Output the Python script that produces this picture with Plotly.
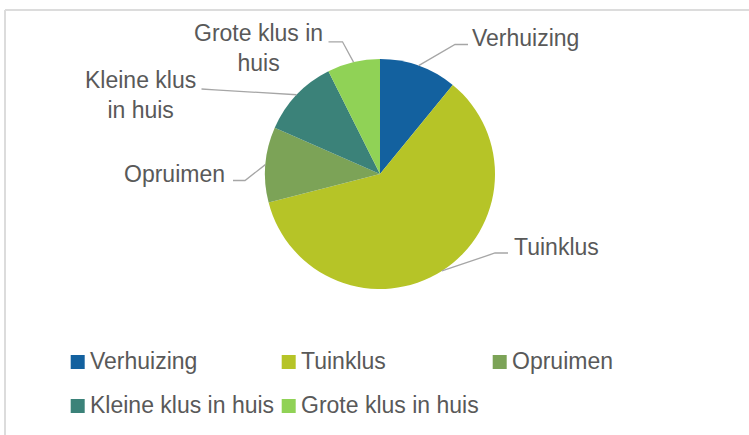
import math
import plotly.graph_objects as go

# ---- data ----
categories = ["Verhuizing", "Tuinklus", "Opruimen", "Kleine klus in huis", "Grote klus in huis"]
values = [10.9, 60.1, 10.6, 11.0, 7.4]
label_texts = ["Verhuizing", "Tuinklus", "Opruimen", "Kleine klus<br>in huis", "Grote klus in<br>huis"]

# ---- styling / layout ----
colors = ["#13619f", "#b6c427", "#7ca357", "#3b8279", "#90d256"]
W, H = 749, 435
CX, CY, R = 380, 174, 115
FONT = "Liberation Sans, Arial, sans-serif"
TXT = "#595959"
FS = 23

def px(x):
    return x / W

def py(y):
    return 1 - y / H

# label placement: (text x, text y, xanchor, elbow point, end point)
label_layout = [
    dict(x=470, y=38, xanchor="left", elbow=(455, 44.5), end=(468, 44.5)),
    dict(x=512, y=247, xanchor="left", elbow=(495, 253), end=(508, 253)),
    dict(x=227, y=174, xanchor="right", elbow=(245, 180.5), end=(233, 180.5)),
    dict(x=140, y=95, xanchor="center", elbow=(215, 89.8), end=(201.5, 89)),
    dict(x=258.5, y=47.5, xanchor="center", elbow=(342.5, 41.8), end=(328.5, 41.8)),
]

fig = go.Figure()
fig.add_trace(go.Pie(
    labels=categories,
    values=values,
    sort=False,
    direction="clockwise",
    rotation=0,
    textinfo="none",
    hoverinfo="label+percent",
    marker=dict(colors=colors, line=dict(width=0)),
    domain=dict(x=[px(CX - R), px(CX + R)], y=[py(CY + R), py(CY - R)]),
    showlegend=False,
))

shapes = []
annotations = []

# chart border (only top and left edges are visible in the frame)
border = dict(color="#dcdcdc", width=2)
shapes.append(dict(type="line", xref="paper", yref="paper",
                   x0=px(5), y0=py(10), x1=px(W + 5), y1=py(10), line=border))
shapes.append(dict(type="line", xref="paper", yref="paper",
                   x0=px(5), y0=py(10), x1=px(5), y1=py(H + 5), line=border))

# data labels with leader lines, start point derived from slice mid-angles
total = sum(values)
cum = 0.0
for v, txt, lay in zip(values, label_texts, label_layout):
    mid = (cum + v / 2) / total * 2 * math.pi
    cum += v
    sx = CX + R * math.sin(mid)
    sy = CY - R * math.cos(mid)
    ex, ey = lay["elbow"]
    tx, ty = lay["end"]
    path = f"M {px(sx)},{py(sy)} L {px(ex)},{py(ey)} L {px(tx)},{py(ty)}"
    shapes.append(dict(type="path", xref="paper", yref="paper", path=path,
                       line=dict(color="#a6a6a6", width=1.3)))
    annotations.append(dict(x=px(lay["x"]), y=py(lay["y"]), xref="paper", yref="paper",
                            text=txt, showarrow=False, xanchor=lay["xanchor"], yanchor="middle",
                            align="center", font=dict(family=FONT, size=FS, color=TXT)))

# legend (custom, two rows of three columns)
for i, (cat, col) in enumerate(zip(categories, colors)):
    r, c = divmod(i, 3)
    x0 = 70.7 + c * 211
    yc = 362 + r * 44
    shapes.append(dict(type="rect", xref="paper", yref="paper",
                       x0=px(x0), x1=px(x0 + 14), y0=py(yc + 7), y1=py(yc - 7),
                       fillcolor=col, line=dict(width=0)))
    annotations.append(dict(x=px(x0 + 17), y=py(yc - 1), xref="paper", yref="paper",
                            text=cat, showarrow=False, xanchor="left", yanchor="middle",
                            font=dict(family=FONT, size=FS, color=TXT)))

fig.update_layout(
    width=W, height=H,
    margin=dict(l=0, r=0, t=0, b=0),
    paper_bgcolor="white",
    plot_bgcolor="white",
    shapes=shapes,
    annotations=annotations,
    showlegend=False,
)

fig.write_html(
    "out.html",
    config={"displayModeBar": False},
    post_script="document.body.style.margin='0';document.body.style.overflow='hidden';",
)
